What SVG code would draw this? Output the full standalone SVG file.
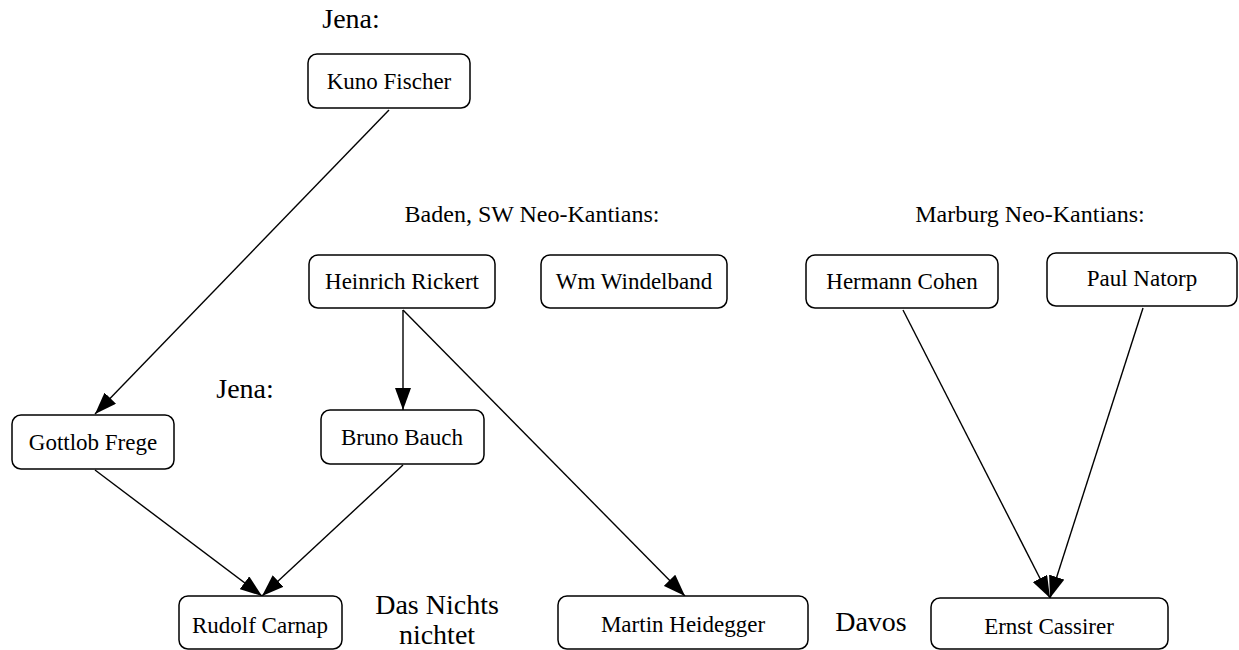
<svg xmlns="http://www.w3.org/2000/svg" width="1239" height="650" viewBox="0 0 1239 650">
<style>
.box{fill:#fff;stroke:#000;stroke-width:1.5}
.nl{font-family:"Liberation Serif","Times New Roman",serif;font-size:23px;text-anchor:middle;fill:#000}
.fl{font-family:"Liberation Serif","Times New Roman",serif;font-size:28px;text-anchor:middle;fill:#000}
.gl{font-family:"Liberation Serif","Times New Roman",serif;font-size:24px;text-anchor:middle;fill:#000}
.edge{fill:none;stroke:#000;stroke-width:1.4;marker-end:url(#ah)}
</style>
<defs>
<marker id="ah" viewBox="0 0 22 16" refX="22" refY="8" markerWidth="22" markerHeight="16" markerUnits="userSpaceOnUse" orient="auto">
<path d="M0,0 L22,8 L0,16 Z" fill="#000"/>
</marker>
</defs>
<rect width="1239" height="650" fill="#fff"/>
<g id="labels">
<text class="fl" x="351" y="28">Jena:</text>
<text class="gl" x="532" y="222">Baden, SW Neo-Kantians:</text>
<text class="gl" x="1030" y="222">Marburg Neo-Kantians:</text>
<text class="fl" x="245" y="398">Jena:</text>
<text class="fl" x="437" y="614">Das Nichts</text>
<text class="fl" x="437" y="644">nichtet</text>
<text class="fl" x="871" y="631">Davos</text>
</g>
<g id="connectors">
<path class="edge" d="M389,110 L95,414"/>
<path class="edge" d="M403,310 L403,410"/>
<path class="edge" d="M403,310 L685,596"/>
<path class="edge" d="M95,470 L262,596"/>
<path class="edge" d="M403,465 L262,596"/>
<path class="edge" d="M903,310 L1050,598"/>
<path class="edge" d="M1143,308 L1050,598"/>
</g>
<g id="kuno"><rect class="box" x="308" y="54" width="162" height="54" rx="9"/><text class="nl" x="389" y="89">Kuno Fischer</text></g>
<g id="rickert"><rect class="box" x="309" y="255" width="186" height="53" rx="9"/><text class="nl" x="402" y="289">Heinrich Rickert</text></g>
<g id="windelband"><rect class="box" x="541" y="255" width="186" height="53" rx="9"/><text class="nl" x="634" y="289">Wm Windelband</text></g>
<g id="cohen"><rect class="box" x="806" y="255" width="192" height="53" rx="9"/><text class="nl" x="902" y="289">Hermann Cohen</text></g>
<g id="natorp"><rect class="box" x="1047" y="253" width="190" height="53" rx="9"/><text class="nl" x="1142" y="286">Paul Natorp</text></g>
<g id="frege"><rect class="box" x="12" y="415" width="162" height="54" rx="9"/><text class="nl" x="93" y="450">Gottlob Frege</text></g>
<g id="bauch"><rect class="box" x="321" y="410" width="163" height="54" rx="9"/><text class="nl" x="402" y="445">Bruno Bauch</text></g>
<g id="carnap"><rect class="box" x="179" y="596" width="163" height="53" rx="9"/><text class="nl" x="260" y="633">Rudolf Carnap</text></g>
<g id="heidegger"><rect class="box" x="558" y="596" width="250" height="53" rx="9"/><text class="nl" x="683" y="632">Martin Heidegger</text></g>
<g id="cassirer"><rect class="box" x="931" y="598" width="237" height="51" rx="9"/><text class="nl" x="1049" y="634">Ernst Cassirer</text></g>
</svg>
